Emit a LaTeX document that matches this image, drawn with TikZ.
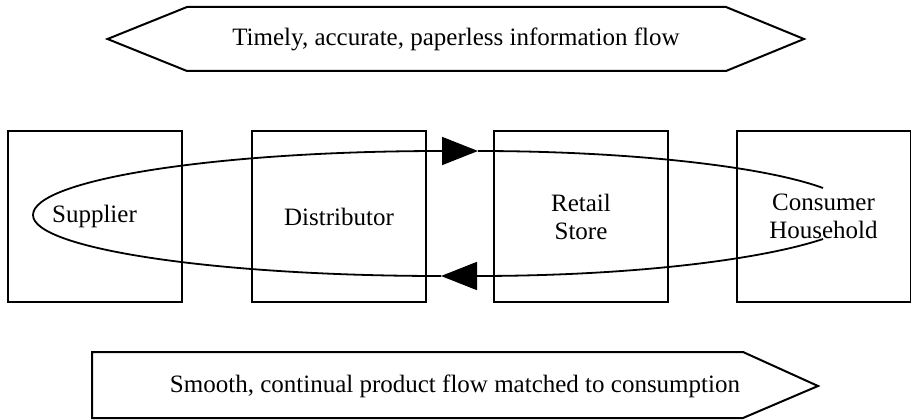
\documentclass[tikz,border=0pt]{standalone}
\usepackage{fontspec}
\setmainfont{Liberation Serif}
\usetikzlibrary{arrows.meta}
\begin{document}
\begin{tikzpicture}[x=1pt,y=-1pt,
  font=\fontsize{25}{28}\selectfont,
  stage/.style={draw,line width=2pt,minimum width=174pt,minimum height=171pt,
                align=center,inner sep=0pt},
  banner/.style={draw,line width=2pt,line join=miter},
  flowline/.style={line width=1.8pt},
  head/.style={-{Triangle[length=36pt,width=28pt]}}]
\useasboundingbox (0,0) rectangle (911,420);

% information flow banner (two-way) and product flow banner (one-way)
\draw[banner] (107.5,39) -- (187,7) -- (726,7) -- (804,39) -- (726,71) -- (187,71) -- cycle;
\node (info) at (456,39) {Timely, accurate, paperless information flow};
\draw[banner] (92,352) -- (743,352) -- (818,386) -- (743,418) -- (92,418) -- cycle;
\node (prod) at (455,386) {Smooth, continual product flow matched to consumption};

% supply chain stages
\node[stage] (sup)  at (94.5,216.5) {Supplier};
\node[stage] (dist) at (339,216.5)  {Distributor};
\node[stage] (ret)  at (581,216.5)  {Retail\\Store};
\node[stage] (cons) at (823.5,216.5) {Consumer\\Household};

% loop ends inside the consumer box and turning point inside the supplier box
\coordinate (outEnd) at (823,188);
\coordinate (inStart) at (823,239);
\coordinate (turn) at (33,215);
\coordinate (lowTip) at (441,276);
\coordinate (upTip) at (478,151);

% lower leg: consumer back towards supplier
\draw[flowline,head] (inStart) .. controls (760,260) and (630,276) .. (476,276) -- (lowTip);
% round the supplier and back along the upper leg
\draw[flowline,head] (lowTip) .. controls (216,276) and (33,248.7) .. (turn)
  .. controls (33,179.7) and (216,151) .. (442,151) -- (upTip);
\draw[flowline] (upTip) .. controls (620,151) and (760,165) .. (outEnd);
\end{tikzpicture}
\end{document}
